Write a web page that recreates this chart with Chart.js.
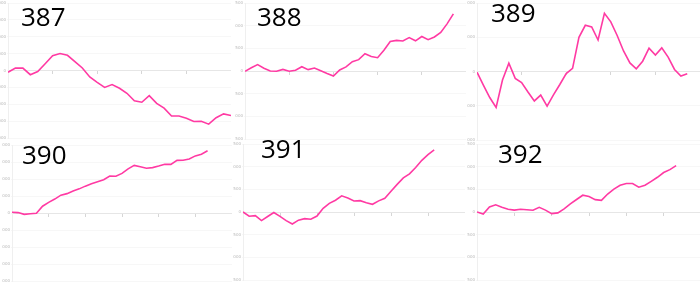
<!DOCTYPE html>
<html>
<head>
<meta charset="utf-8">
<script src="https://cdn.jsdelivr.net/npm/chart.js@4"></script>
<style>
  html, body { margin: 0; padding: 0; background: #fff; overflow: hidden; }
  body { width: 700px; height: 282px; position: relative; }
  .panel { position: absolute; }
  .num { position: absolute; font-family: 'Open Sans', sans-serif; font-size: 26px; line-height: 26px; color: #000; }
</style>
</head>
<body>
<script>
// panel ids shown in the big labels
const panelNames = ['387', '388', '389', '390', '391', '392'];

const values387 = [-100, 150, 140, -250, -60, 400, 880, 1010, 900, 530, 150, -380, -700, -1000, -830, -1050,
  -1350, -1790, -1880, -1490, -1950, -2230, -2700, -2700, -2830, -3020, -3010, -3180, -2800, -2570, -2670];
const values388 = [-40, 350, 700, 310, 0, -20, 180, -20, 80, 470, 150, 330, 20, -280, -550, 120, 450,
  1030, 1250, 1900, 1600, 1470, 2300, 3250, 3380, 3310, 3680, 3330, 3800, 3450, 3750, 4250, 5200, 6300];
const values389 = [-20, -400, -760, -1050, -250, 245, -200, -320, -600, -860, -690, -1010, -680, -380, -60,
  90, 1000, 1350, 1300, 920, 1700, 1450, 1050, 600, 250, 80, 300, 680, 480, 690, 420, 60, -130, -65];
const values390 = [200, 120, -390, -200, -100, 2000, 3140, 4100, 5250, 5700, 6500, 7100, 7900, 8600, 9200,
  9800, 10850, 10800, 11650, 13000, 14000, 13600, 13150, 13350, 13800, 14350, 14300, 15490, 15500, 15900,
  16800, 17300, 18300];
const values391 = [0, -470, -400, -950, -500, -60, -480, -950, -1320, -900, -735, -800, -450, 400, 950, 1300,
  1780, 1550, 1220, 1250, 1030, 850, 1230, 1520, 2280, 3050, 3760, 4200, 4900, 5700, 6320, 6850];
const values392 = [0, -220, 550, 800, 520, 310, 210, 310, 250, 190, 515, 210, -180, -100, 350, 900, 1380,
  1850, 1700, 1360, 1280, 1980, 2520, 2940, 3150, 3140, 2740, 2950, 3380, 3830, 4350, 4670, 5110];

const seriesValues = [values387, values388, values389, values390, values391, values392];

// y axis ranges and tick steps
const yLimits = [4000, 7500, 2000, 20000, 7500, 7500];
const ySteps = [1000, 2500, 1000, 5000, 2500, 2500];
// x axis extent and tick steps
const xMaxes = [30, 35, 35, 36, 36, 36];
const xSteps = [6, 7, 7, 6, 6, 6];

// panel boxes: left, top, width, height ; label position
const boxes = [
  [-2, 0, 233, 141], [235, 0, 231, 142], [467, 0, 233, 143],
  [2, 142, 230, 142], [233, 141, 232, 142], [467, 141, 234, 142]
];
const labelPos = [[21, 3], [257, 3], [491, -1], [22, 141], [261, 135], [498, 140]];

const LINE = '#ff3aa3';

panelNames.forEach((name, k) => {
  const b = boxes[k];
  const div = document.createElement('div');
  div.className = 'panel';
  div.style.left = b[0] + 'px';
  div.style.top = b[1] + 'px';
  div.style.width = b[2] + 'px';
  div.style.height = b[3] + 'px';
  const cv = document.createElement('canvas');
  div.appendChild(cv);
  document.body.appendChild(div);

  const pts = seriesValues[k].map((v, i) => ({ x: i, y: v }));

  new Chart(cv.getContext('2d'), {
    type: 'line',
    data: {
      datasets: [{
        data: pts,
        borderColor: LINE,
        borderWidth: 1.6,
        pointRadius: 0,
        tension: 0,
        fill: false
      }]
    },
    options: {
      responsive: true,
      maintainAspectRatio: false,
      animation: false,
      layout: { padding: { top: 3, bottom: 3, left: 0, right: 0 } },
      plugins: { legend: { display: false }, tooltip: { enabled: false } },
      scales: {
        x: {
          type: 'linear',
          min: 0,
          max: xMaxes[k],
          position: { y: 0 },
          ticks: { display: false, stepSize: xSteps[k] },
          grid: { drawOnChartArea: false, drawTicks: true, tickLength: 3, color: '#d6d6d6' },
          border: { color: '#e6e6e6', width: 1 }
        },
        y: {
          min: -yLimits[k],
          max: yLimits[k],
          ticks: {
            stepSize: ySteps[k],
            padding: 1,
            color: '#b8b8b8',
            font: { size: 4, family: 'DejaVu Sans' },
            callback: v => String(v)
          },
          grid: { color: '#f7f7f7', drawTicks: true, tickLength: 1 },
          border: { color: '#efefef' },
          afterFit: s => { s.width = 10; s.paddingTop = 0; s.paddingBottom = 0; }
        }
      }
    }
  });

  const lab = document.createElement('div');
  lab.className = 'num';
  lab.textContent = name;
  lab.style.left = labelPos[k][0] + 'px';
  lab.style.top = labelPos[k][1] + 'px';
  document.body.appendChild(lab);
});
</script>
</body>
</html>
